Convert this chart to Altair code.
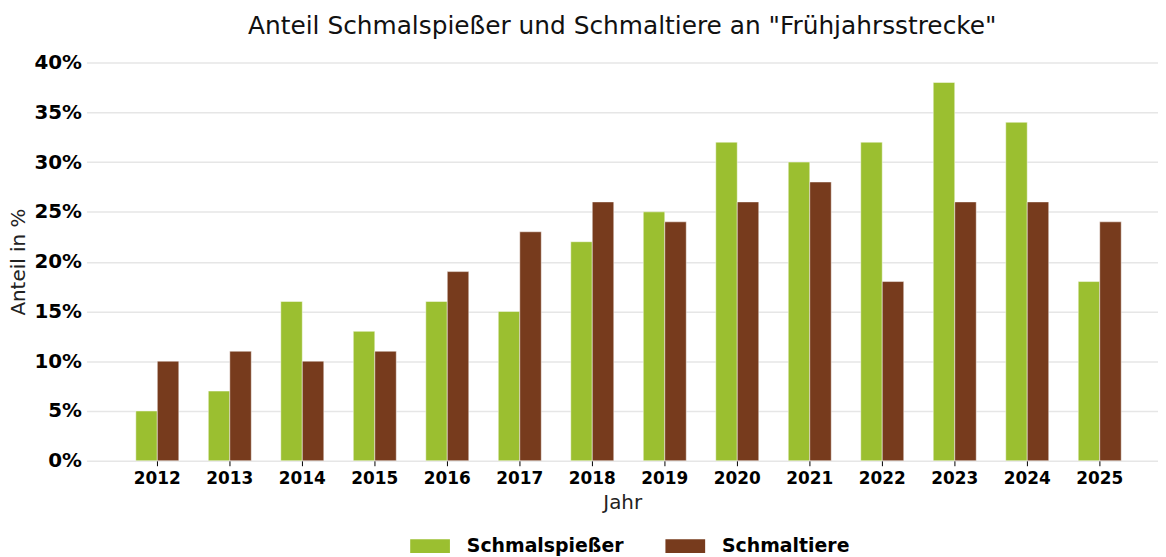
import altair as alt
import pandas as pd

years = ["2012", "2013", "2014", "2015", "2016", "2017", "2018",
         "2019", "2020", "2021", "2022", "2023", "2024", "2025"]
schmalspiesser = [5, 7, 16, 13, 16, 15, 22, 25, 32, 30, 32, 38, 34, 18]
schmaltiere = [10, 11, 10, 11, 19, 23, 26, 24, 26, 28, 18, 26, 26, 24]
series_names = ["Schmalspießer", "Schmaltiere"]
series_colors = ["#9bbf30", "#773b1d"]

rows = []
for i, y in enumerate(years):
    rows.append({"Jahr": y, "Serie": series_names[0], "Wert": schmalspiesser[i] / 100})
    rows.append({"Jahr": y, "Serie": series_names[1], "Wert": schmaltiere[i] / 100})
df = pd.DataFrame(rows)

FONT = "DejaVu Sans"

chart = alt.Chart(df).mark_bar(
    stroke="white", strokeWidth=0.8, strokeOpacity=0.6
).encode(
    x=alt.X("Jahr:N", sort=years,
            scale=alt.Scale(paddingInner=0.407, paddingOuter=0.594, align=0.573),
            axis=alt.Axis(title="Jahr", labelAngle=0, labelFont=FONT, labelFontSize=17,
                          labelFontWeight="bold", labelColor="black", labelPadding=5,
                          titleFont=FONT, titleFontSize=20, titleFontWeight="normal",
                          titleColor="#222222", titlePadding=6,
                          ticks=True, tickColor="black", tickSize=5, tickWidth=1,
                          domain=False, grid=False)),
    xOffset=alt.XOffset("Serie:N", sort=series_names),
    y=alt.Y("Wert:Q", scale=alt.Scale(domain=[0, 0.4], nice=False),
            axis=alt.Axis(title="Anteil in %", format=".0%", values=[0, 0.05, 0.1, 0.15, 0.2, 0.25, 0.3, 0.35, 0.4],
                          labelFont=FONT, labelFontSize=20, labelFontWeight="bold",
                          labelColor="black", labelPadding=5, ticks=False, domain=False,
                          grid=True, gridColor="#e6e6e6", gridWidth=1.5,
                          titleFont=FONT, titleFontSize=20, titleFontWeight="normal",
                          titleColor="#222222", titlePadding=6)),
    color=alt.Color("Serie:N", sort=series_names,
                    scale=alt.Scale(domain=series_names, range=series_colors),
                    legend=alt.Legend(title=None, orient="none", direction="horizontal",
                                      legendX=326, legendY=467, columns=2,
                                      symbolType="M-1,-0.35L1,-0.35L1,0.35L-1,0.35Z",
                                      symbolSize=1600, symbolStrokeWidth=0,
                                      labelFont=FONT, labelFontSize=19, labelFontWeight="bold",
                                      labelColor="black", labelOffset=17, columnPadding=42,
                                      symbolOpacity=1)),
).properties(
    width=1079,
    height=401,
    title=alt.TitleParams("Anteil Schmalspießer und Schmaltiere an \"Frühjahrsstrecke\"",
                          font=FONT, fontSize=25, fontWeight="normal", color="#111111",
                          anchor="middle", offset=14),
    autosize=alt.AutoSizeParams(type="none"),
    padding={"left": 79, "top": 53, "right": 0, "bottom": 95},
).configure_view(stroke=None)

chart.save("out.html", embed_options={"renderer": "svg", "actions": False})
